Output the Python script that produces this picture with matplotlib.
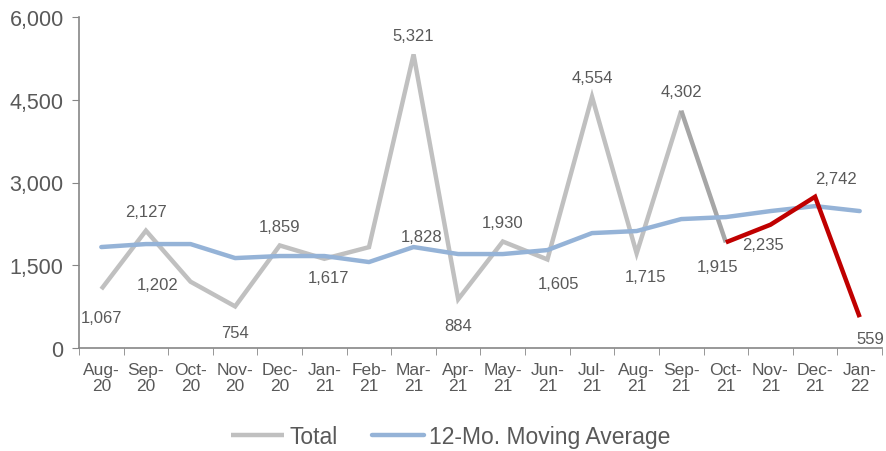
import matplotlib
matplotlib.use("Agg")
import matplotlib.pyplot as plt
import numpy as np

plt.rcParams["font.family"] = ["Liberation Sans", "DejaVu Sans"]

months = ["Aug-\n20", "Sep-\n20", "Oct-\n20", "Nov-\n20", "Dec-\n20", "Jan-\n21",
          "Feb-\n21", "Mar-\n21", "Apr-\n21", "May-\n21", "Jun-\n21", "Jul-\n21",
          "Aug-\n21", "Sep-\n21", "Oct-\n21", "Nov-\n21", "Dec-\n21", "Jan-\n22"]
total = [1067, 2127, 1202, 754, 1859, 1617, 1828, 5321, 884, 1930, 1605, 4554,
         1715, 4302, 1915, 2235, 2742, 559]
moving_avg = [1830, 1884, 1884, 1630, 1667, 1667, 1558, 1830, 1703, 1703, 1775,
              2083, 2120, 2337, 2373, 2482, 2572, 2482]
# label offsets in pixels (dx, dy) from each point
label_offsets = [(0, -28), (0, 19), (-33, -3), (0, -26), (0, 19), (4, -19),
                 (53, 11), (0, 19), (0, -26), (0, 19), (11, -24), (0, 19),
                 (9, -23), (0, 19), (-8, -24), (-7, -20), (21, 18), (11, -21)]

text_col = "#595959"
axis_col = "#868686"

fig = plt.figure(figsize=(8.86, 4.52), dpi=100)
ax = fig.add_axes([79 / 886, 1 - 349 / 452, (882 - 79) / 886, (349 - 18) / 452])

x = np.arange(len(months))
ax.plot(x[:14], total[:14], color="#C0C0C0", lw=3.2, solid_capstyle="butt",
        solid_joinstyle="miter", label="Total", zorder=2)
ax.plot(x[13:15], total[13:15], color="#A6A6A6", lw=3.2, solid_capstyle="butt", zorder=2)
ax.plot(x[14:], total[14:], color="#C00000", lw=3.2, solid_capstyle="butt",
        solid_joinstyle="miter", zorder=3)
ax.plot(x, moving_avg, color="#95B3D7", lw=3.2, solid_capstyle="round",
        label="12-Mo. Moving Average", zorder=2.5)

for i, (v, (dx, dy)) in enumerate(zip(total, label_offsets)):
    ax.annotate(f"{v:,}", (x[i], v), xytext=(dx, dy), textcoords="offset pixels",
                ha="center", va="center", fontsize=12, color=text_col,
                annotation_clip=False)

ax.set_xlim(-0.5, len(months) - 0.5)
ax.set_ylim(0, 6000)
ax.set_yticks(np.arange(0, 6001, 1500))
ax.set_yticklabels([f"{t:,}" for t in range(0, 6001, 1500)], fontsize=15.5, color=text_col)
ax.set_xticks(x)
ax.set_xticklabels(months, fontsize=12.5, color=text_col, linespacing=1.1)
ax.set_xticks(np.arange(-0.5, len(months)), minor=True)
ax.tick_params(axis="x", which="major", length=0, pad=10)
ax.tick_params(axis="x", which="minor", length=5, color=axis_col, direction="out")
ax.tick_params(axis="y", length=5, color=axis_col, direction="out", pad=6)

for s in ["top", "right"]:
    ax.spines[s].set_visible(False)
for s in ["left", "bottom"]:
    ax.spines[s].set_color(axis_col)
    ax.spines[s].set_linewidth(1.2)

leg = fig.legend(loc="center", bbox_to_anchor=(451 / 886, 1 - 438 / 452), ncol=2,
                 frameon=False, fontsize=16.5, handlelength=2.3, handletextpad=0.22,
                 columnspacing=1.5)
for t in leg.get_texts():
    t.set_color(text_col)

fig.savefig("out.png", dpi=100)
